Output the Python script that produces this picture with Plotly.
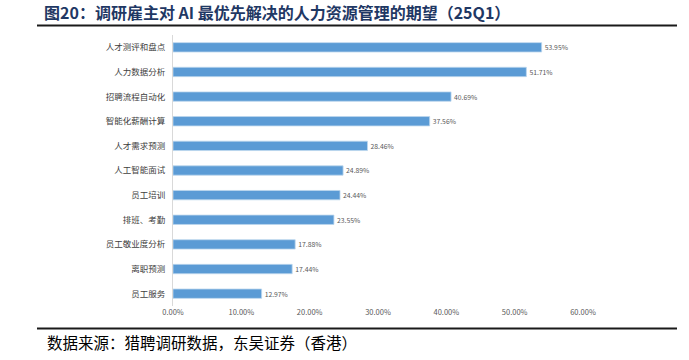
import plotly.graph_objects as go

categories = ["人才测评和盘点", "人力数据分析", "招聘流程自动化", "智能化薪酬计算", "人才需求预测",
              "人工智能面试", "员工培训", "排班、考勤", "员工敬业度分析", "离职预测", "员工服务"]
values = [53.95, 51.71, 40.69, 37.56, 28.46, 24.89, 24.44, 23.55, 17.88, 17.44, 12.97]
tick_vals = [0, 10, 20, 30, 40, 50, 60]
tick_text = ["0.00%", "10.00%", "20.00%", "30.00%", "40.00%", "50.00%", "60.00%"]

title = "图20：调研雇主对 AI 最优先解决的人力资源管理的期望（25Q1）"
source = "数据来源：猎聘调研数据，东吴证券（香港）"

CJK = "Noto Sans CJK SC"

fig = go.Figure(go.Bar(
    x=values, y=categories, orientation="h",
    marker=dict(color="#5B9BD5", line=dict(color="#BDD7EE", width=0.8)),
    text=[f"{v:.2f}%" for v in values], textposition="outside",
    textfont=dict(family=CJK, size=8, color="#595959"),
    cliponaxis=False,
))

W, H = 689, 360
L, R = 173, 583
TOP, BOT = 34.6, 306.4
pw = R - L
ph = BOT - TOP

def px(x):
    return (x - L) / pw

def py(y):
    return (BOT - y) / ph

fig.update_layout(
    width=W, height=H,
    margin=dict(l=L, r=W - R, t=TOP, b=H - BOT, autoexpand=False),
    plot_bgcolor="white", paper_bgcolor="white",
    showlegend=False,
    bargap=0.62,
    xaxis=dict(range=[0, 60], tickvals=tick_vals, ticktext=tick_text, showgrid=False,
               zeroline=False, showline=False, ticks="",
               tickfont=dict(family=CJK, size=7.5, color="#595959")),
    yaxis=dict(autorange="reversed", showgrid=False, showline=True, linecolor="#D9D9D9",
               linewidth=1, ticks="", ticklabelstandoff=5,
               tickfont=dict(family=CJK, size=8.5, color="#404040")),
    shapes=[
        dict(type="line", xref="paper", yref="paper", x0=px(37), x1=px(677), y0=py(25), y1=py(25),
             line=dict(color="#1a1a1a", width=2)),
        dict(type="line", xref="paper", yref="paper", x0=px(37), x1=px(677), y0=py(329), y1=py(329),
             line=dict(color="#1a1a1a", width=2)),
    ],
    annotations=[
        dict(text=f"<b>{title}</b>", xref="paper", yref="paper", x=px(42), y=py(12),
             xanchor="left", yanchor="middle", showarrow=False,
             font=dict(family=CJK, size=16, color="#1F3864")),
        dict(text=source, xref="paper", yref="paper", x=px(45), y=py(343),
             xanchor="left", yanchor="middle", showarrow=False,
             font=dict(family=CJK, size=15.5, color="#000000")),
    ],
)

fig.write_html("out.html", config={"displayModeBar": False},
               post_script="document.body.style.margin='0px';")
